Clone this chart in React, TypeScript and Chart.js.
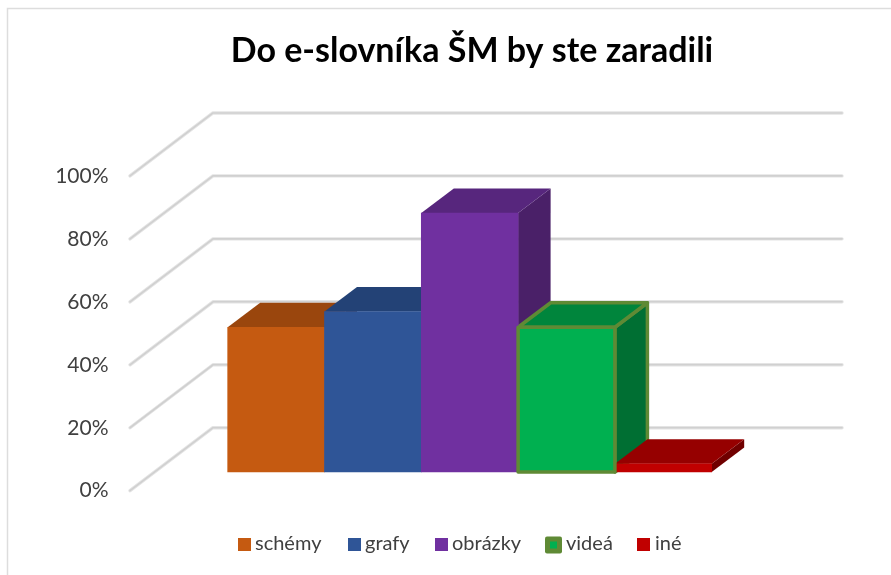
import React, { useEffect, useRef } from "react";
import { Chart, registerables } from "chart.js";

Chart.register(...registerables);

const titleText = "Do e-slovníka ŠM by ste zaradili";
const categories = ["schémy", "grafy", "obrázky", "videá", "iné"];
const values = [46, 51, 82.3, 46, 2.6];
const positions = [0, 1, 2, 3, 4];
const frontColors = ["#c55a11", "#2f5597", "#7030a0", "#00b050", "#c00000"];
const topColors = ["#9a460d", "#234276", "#57267d", "#00853c", "#960000"];
const sideColors = ["#7a370a", "#1b335c", "#4a2068", "#006f33", "#700000"];
const outlineColors = [null, null, null, "#5f8a35", null];
const gridValues = [0, 20, 40, 60, 80, 100];
const legendBoxX = [238, 348, 435, 547, 637];
const legendTextX = [255, 365, 452, 566, 655];

const FONT = "Lato, Carlito, 'Open Sans', sans-serif";
const DEPTH_X = 32.5;
const DEPTH_Y = -24.5;
const WALL_X = 83;
const WALL_Y = -63;
const WALL_RIGHT_GAP = 49;
const OUTLINE = 3.5;

const polygon = (ctx: any, pts: number[][], fill: string | null, stroke?: string | null, lw?: number) => {
  ctx.beginPath();
  pts.forEach(([x, y], i) => (i === 0 ? ctx.moveTo(x, y) : ctx.lineTo(x, y)));
  ctx.closePath();
  if (fill) {
    ctx.fillStyle = fill;
    ctx.fill();
  }
  if (stroke && lw) {
    ctx.strokeStyle = stroke;
    ctx.lineWidth = lw;
    ctx.lineJoin = "round";
    ctx.stroke();
  }
};

const barBox = (bar: any) => {
  const { x, y, base, width } = bar.getProps(["x", "y", "base", "width"], true);
  return { l: x - width / 2, r: x + width / 2, y, base };
};

const scene3d = {
  id: "scene3d",
  beforeDatasetsDraw(chart: any) {
    const { ctx, chartArea, scales } = chart;
    ctx.save();
    // outer frame
    ctx.strokeStyle = "#dddddd";
    ctx.lineWidth = 1.5;
    ctx.beginPath();
    ctx.moveTo(7.5, 575);
    ctx.lineTo(7.5, 8.5);
    ctx.lineTo(891, 8.5);
    ctx.stroke();
    // side wall and back wall grid lines
    gridValues.forEach((v) => {
      const y = scales.y.getPixelForValue(v);
      const trace = () => {
        ctx.beginPath();
        ctx.moveTo(chartArea.left, y);
        ctx.lineTo(chartArea.left + WALL_X, y + WALL_Y);
        ctx.lineTo(chartArea.right - WALL_RIGHT_GAP, y + WALL_Y);
      };
      ctx.lineJoin = "round";
      ctx.lineCap = "round";
      ctx.strokeStyle = "#e4e4e4";
      ctx.lineWidth = 3.4;
      trace();
      ctx.stroke();
      ctx.strokeStyle = "#d0d0d0";
      ctx.lineWidth = 1.6;
      trace();
      ctx.stroke();
    });
    // bar sides and tops, painted from left to right
    const meta = chart.getDatasetMeta(0);
    meta.data.forEach((bar: any, i: number) => {
      const { l, r, y, base } = barBox(bar);
      polygon(
        ctx,
        [
          [r, y],
          [r + DEPTH_X, y + DEPTH_Y],
          [r + DEPTH_X, base + DEPTH_Y],
          [r, base],
        ],
        sideColors[i],
        outlineColors[i],
        OUTLINE
      );
      polygon(
        ctx,
        [
          [l, y],
          [l + DEPTH_X, y + DEPTH_Y],
          [r + DEPTH_X, y + DEPTH_Y],
          [r, y],
        ],
        topColors[i],
        outlineColors[i],
        OUTLINE
      );
    });
    ctx.restore();
  },
  afterDatasetsDraw(chart: any) {
    const { ctx } = chart;
    ctx.save();
    chart.getDatasetMeta(0).data.forEach((bar: any, i: number) => {
      if (!outlineColors[i]) return;
      const { l, r, y, base } = barBox(bar);
      polygon(
        ctx,
        [
          [l, y],
          [r, y],
          [r, base],
          [l, base],
        ],
        null,
        outlineColors[i],
        OUTLINE
      );
    });
    ctx.restore();
  },
  afterDraw(chart: any) {
    const { ctx } = chart;
    ctx.save();
    ctx.font = `20px ${FONT}`;
    ctx.textBaseline = "alphabetic";
    categories.forEach((label, i) => {
      const bx = legendBoxX[i];
      if (outlineColors[i]) {
        ctx.fillStyle = outlineColors[i];
        ctx.beginPath();
        ctx.roundRect(bx - 2, 536.5, 17, 17, 2);
        ctx.fill();
        ctx.fillStyle = frontColors[i];
        ctx.fillRect(bx + 3, 541.5, 7, 7);
      } else {
        ctx.fillStyle = frontColors[i];
        ctx.fillRect(bx, 538, 13, 13);
      }
      ctx.fillStyle = "#404040";
      ctx.fillText(label, legendTextX[i], 550);
    });
    ctx.restore();
  },
};

export default function App() {
  const ref = useRef<HTMLCanvasElement>(null);

  useEffect(() => {
    const chart = new Chart(ref.current as HTMLCanvasElement, {
      type: "bar",
      data: {
        datasets: [
          {
            label: "Do e-slovníka ŠM",
            data: positions.map((p, i) => ({ x: p, y: values[i] })),
            yAxisID: "bars",
            xAxisID: "x",
            backgroundColor: frontColors,
            borderWidth: 0,
            barThickness: 96.8,
          } as any,
        ],
      },
      plugins: [scene3d],
      options: {
        animation: false,
        responsive: false,
        layout: { padding: { left: 53, right: 0, top: 0, bottom: 84.3 } },
        plugins: {
          legend: { display: false },
          tooltip: { enabled: false },
          title: {
            display: true,
            text: titleText,
            color: "#000000",
            font: { family: FONT, size: 34, weight: "bold" },
            padding: { top: 31, bottom: 41.2 },
          },
        },
        scales: {
          x: {
            type: "linear",
            display: false,
            offset: false,
            min: -1.509,
            max: 6.352,
            grid: { display: false },
          },
          y: {
            type: "linear",
            position: "left",
            min: 0,
            max: 120,
            grid: { display: false },
            border: { display: false },
            afterFit: (s: any) => {
              s.width = 77;
            },
            ticks: {
              stepSize: 20,
              padding: 13.5,
              color: "#404040",
              font: { family: FONT, size: 21 },
              callback: (v: any) => (Number(v) <= 100 ? `${v}%` : ""),
            },
          },
          bars: {
            type: "linear",
            display: false,
            min: -5.94,
            max: 114.07,
          },
        },
      } as any,
    });
    return () => chart.destroy();
  }, []);

  return (
    <div style={{ position: "fixed", left: 0, top: 0, width: 891, height: 575, background: "#fff" }}>
      <canvas ref={ref} width={891} height={575} style={{ display: "block" }} />
    </div>
  );
}
